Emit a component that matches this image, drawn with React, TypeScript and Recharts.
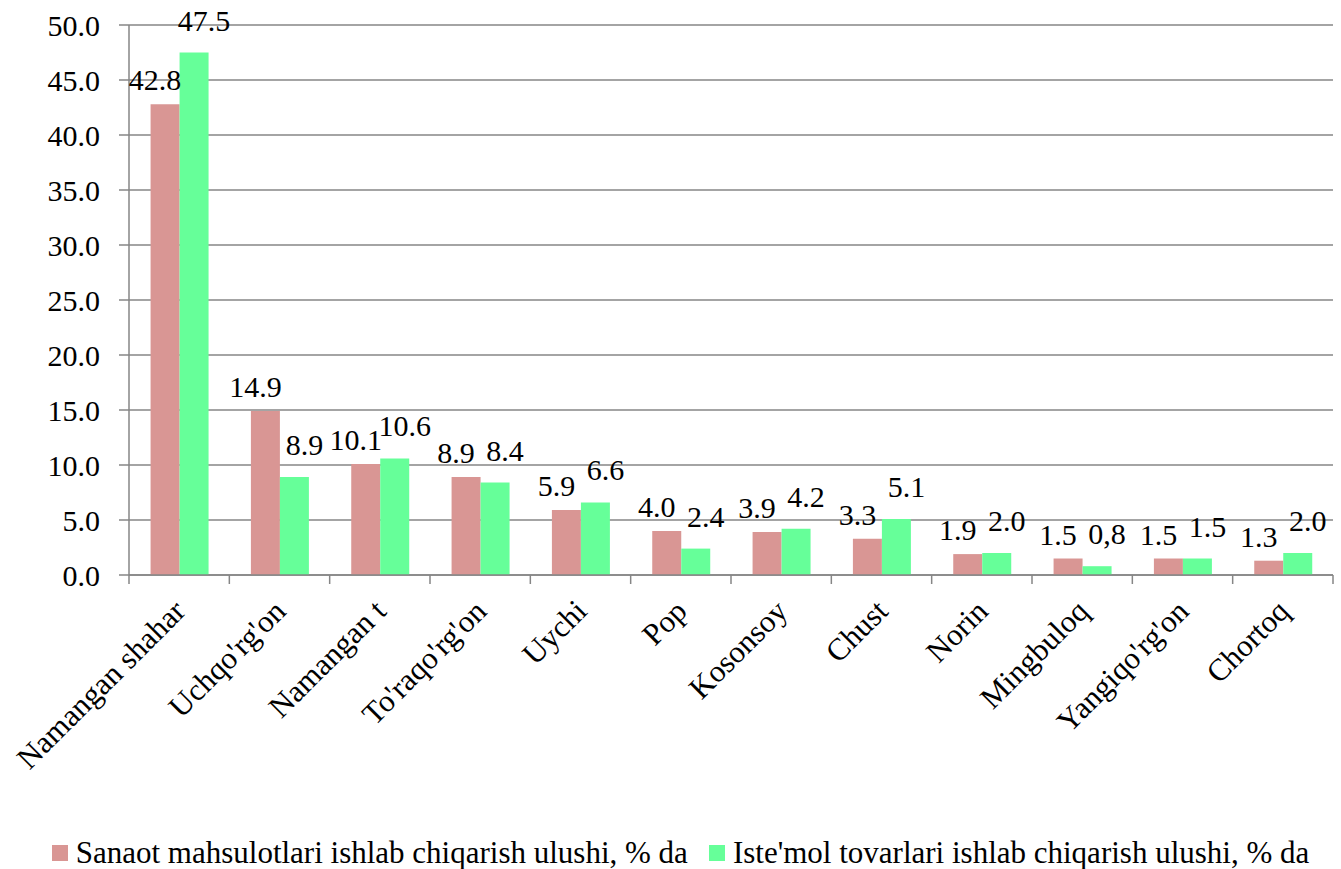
import React from "react";
import { BarChart, Bar, XAxis, YAxis, CartesianGrid, Legend, LabelList } from "recharts";

const regions = [
  "Namangan shahar",
  "Uchqo'rg'on",
  "Namangan t",
  "To'raqo'rg'on",
  "Uychi",
  "Pop",
  "Kosonsoy",
  "Chust",
  "Norin",
  "Mingbuloq",
  "Yangiqo'rg'on",
  "Chortoq",
];
const sanoatShare = [42.8, 14.9, 10.1, 8.9, 5.9, 4.0, 3.9, 3.3, 1.9, 1.5, 1.5, 1.3];
const istemolShare = [47.5, 8.9, 10.6, 8.4, 6.6, 2.4, 4.2, 5.1, 2.0, 0.8, 1.5, 2.0];
const istemolLabels = ["47.5", "8.9", "10.6", "8.4", "6.6", "2.4", "4.2", "5.1", "2.0", "0,8", "1.5", "2.0"];
const yTicks = [0, 5, 10, 15, 20, 25, 30, 35, 40, 45, 50];

const sanoatName = "Sanaot mahsulotlari ishlab chiqarish ulushi, % da";
const istemolName = "Iste'mol tovarlari ishlab chiqarish ulushi, % da";

const PINK = "#D99694";
const GREEN = "#66FF99";
const GRID = "#868686";
const FONT = "Liberation Serif, DejaVu Serif, serif";

const W = 1341;
const H = 869;
const Y_AXIS_W = 129;
const RIGHT = 8;
const BAND = (W - Y_AXIS_W - RIGHT) / regions.length;

const data = regions.map((name, i) => ({
  name,
  sanoat: sanoatShare[i],
  istemol: istemolShare[i],
  sanoatLabel: sanoatShare[i].toFixed(1),
  istemolLabel: istemolLabels[i],
}));

function RegionTick(props: any) {
  const { x, y, payload, index } = props;
  const lx = x + 8;
  const ly = y + 38;
  return (
    <g>
      <line x1={x - BAND / 2} x2={x - BAND / 2} y1={y} y2={y + 9} stroke={GRID} strokeWidth={1.5} />
      {index === regions.length - 1 && (
        <line x1={x + BAND / 2} x2={x + BAND / 2} y1={y} y2={y + 9} stroke={GRID} strokeWidth={1.5} />
      )}
      <text
        x={lx}
        y={ly}
        transform={`rotate(-45, ${lx}, ${ly})`}
        textAnchor="end"
        fontSize={31}
        fontFamily={FONT}
        fill="#000"
      >
        {payload.value}
      </text>
    </g>
  );
}

// bar value label, nudged sideways so neighbouring pairs don't collide
function makeValueLabel(dx: number, lift: number) {
  return (props: any) => {
    const { x, y, width, value } = props;
    return (
      <text
        x={x + width / 2 + dx}
        y={y - lift}
        textAnchor="middle"
        fontSize={30}
        fontFamily={FONT}
        fill="#000"
      >
        {value}
      </text>
    );
  };
}

function ChartLegend() {
  const item = (color: string, label: string) => (
    <div style={{ display: "flex", alignItems: "center" }}>
      <span style={{ width: 16, height: 16, background: color, display: "inline-block", marginRight: 8 }} />
      <span>{label}</span>
    </div>
  );
  return (
    <div
      style={{
        height: 40,
        paddingTop: 8,
        boxSizing: "border-box",
        display: "flex",
        justifyContent: "center",
        alignItems: "center",
        gap: 21,
        fontSize: 31,
        fontFamily: FONT,
        color: "#000",
        paddingLeft: 20,
        whiteSpace: "nowrap",
      }}
    >
      {item(PINK, sanoatName)}
      {item(GREEN, istemolName)}
    </div>
  );
}

export default function App() {
  return (
    <div style={{ position: "absolute", left: 0, top: 0, width: W, height: H, background: "#fff", fontFamily: FONT }}>
      <BarChart
        width={W}
        height={H}
        data={data}
        margin={{ top: 25, right: RIGHT, bottom: 0, left: 0 }}
        barCategoryGap="21.5%"
        barGap={0}
      >
        <CartesianGrid vertical={false} stroke={GRID} strokeWidth={1.5} />
        <XAxis
          dataKey="name"
          interval={0}
          height={254}
          tickSize={0}
          tickMargin={0}
          tickLine={false}
          axisLine={{ stroke: GRID, strokeWidth: 1.5 }}
          tick={<RegionTick />}
        />
        <YAxis
          width={Y_AXIS_W}
          domain={[0, 50]}
          ticks={yTicks}
          interval={0}
          tickSize={10}
          tickMargin={19}
          tickFormatter={(v: number) => v.toFixed(1)}
          axisLine={{ stroke: GRID, strokeWidth: 1.5 }}
          tickLine={{ stroke: GRID, strokeWidth: 1.5 }}
          tick={{ fill: "#000", fontSize: 30, fontFamily: FONT }}
        />
        <Legend
          verticalAlign="bottom"
          content={<ChartLegend />}
          wrapperStyle={{ width: W, left: 0, bottom: 0 }}
        />
        <Bar dataKey="sanoat" name={sanoatName} fill={PINK} isAnimationActive={false}>
          <LabelList dataKey="sanoatLabel" content={makeValueLabel(-10, 14)} />
        </Bar>
        <Bar dataKey="istemol" name={istemolName} fill={GREEN} isAnimationActive={false}>
          <LabelList dataKey="istemolLabel" content={makeValueLabel(10, 22)} />
        </Bar>
      </BarChart>
    </div>
  );
}
